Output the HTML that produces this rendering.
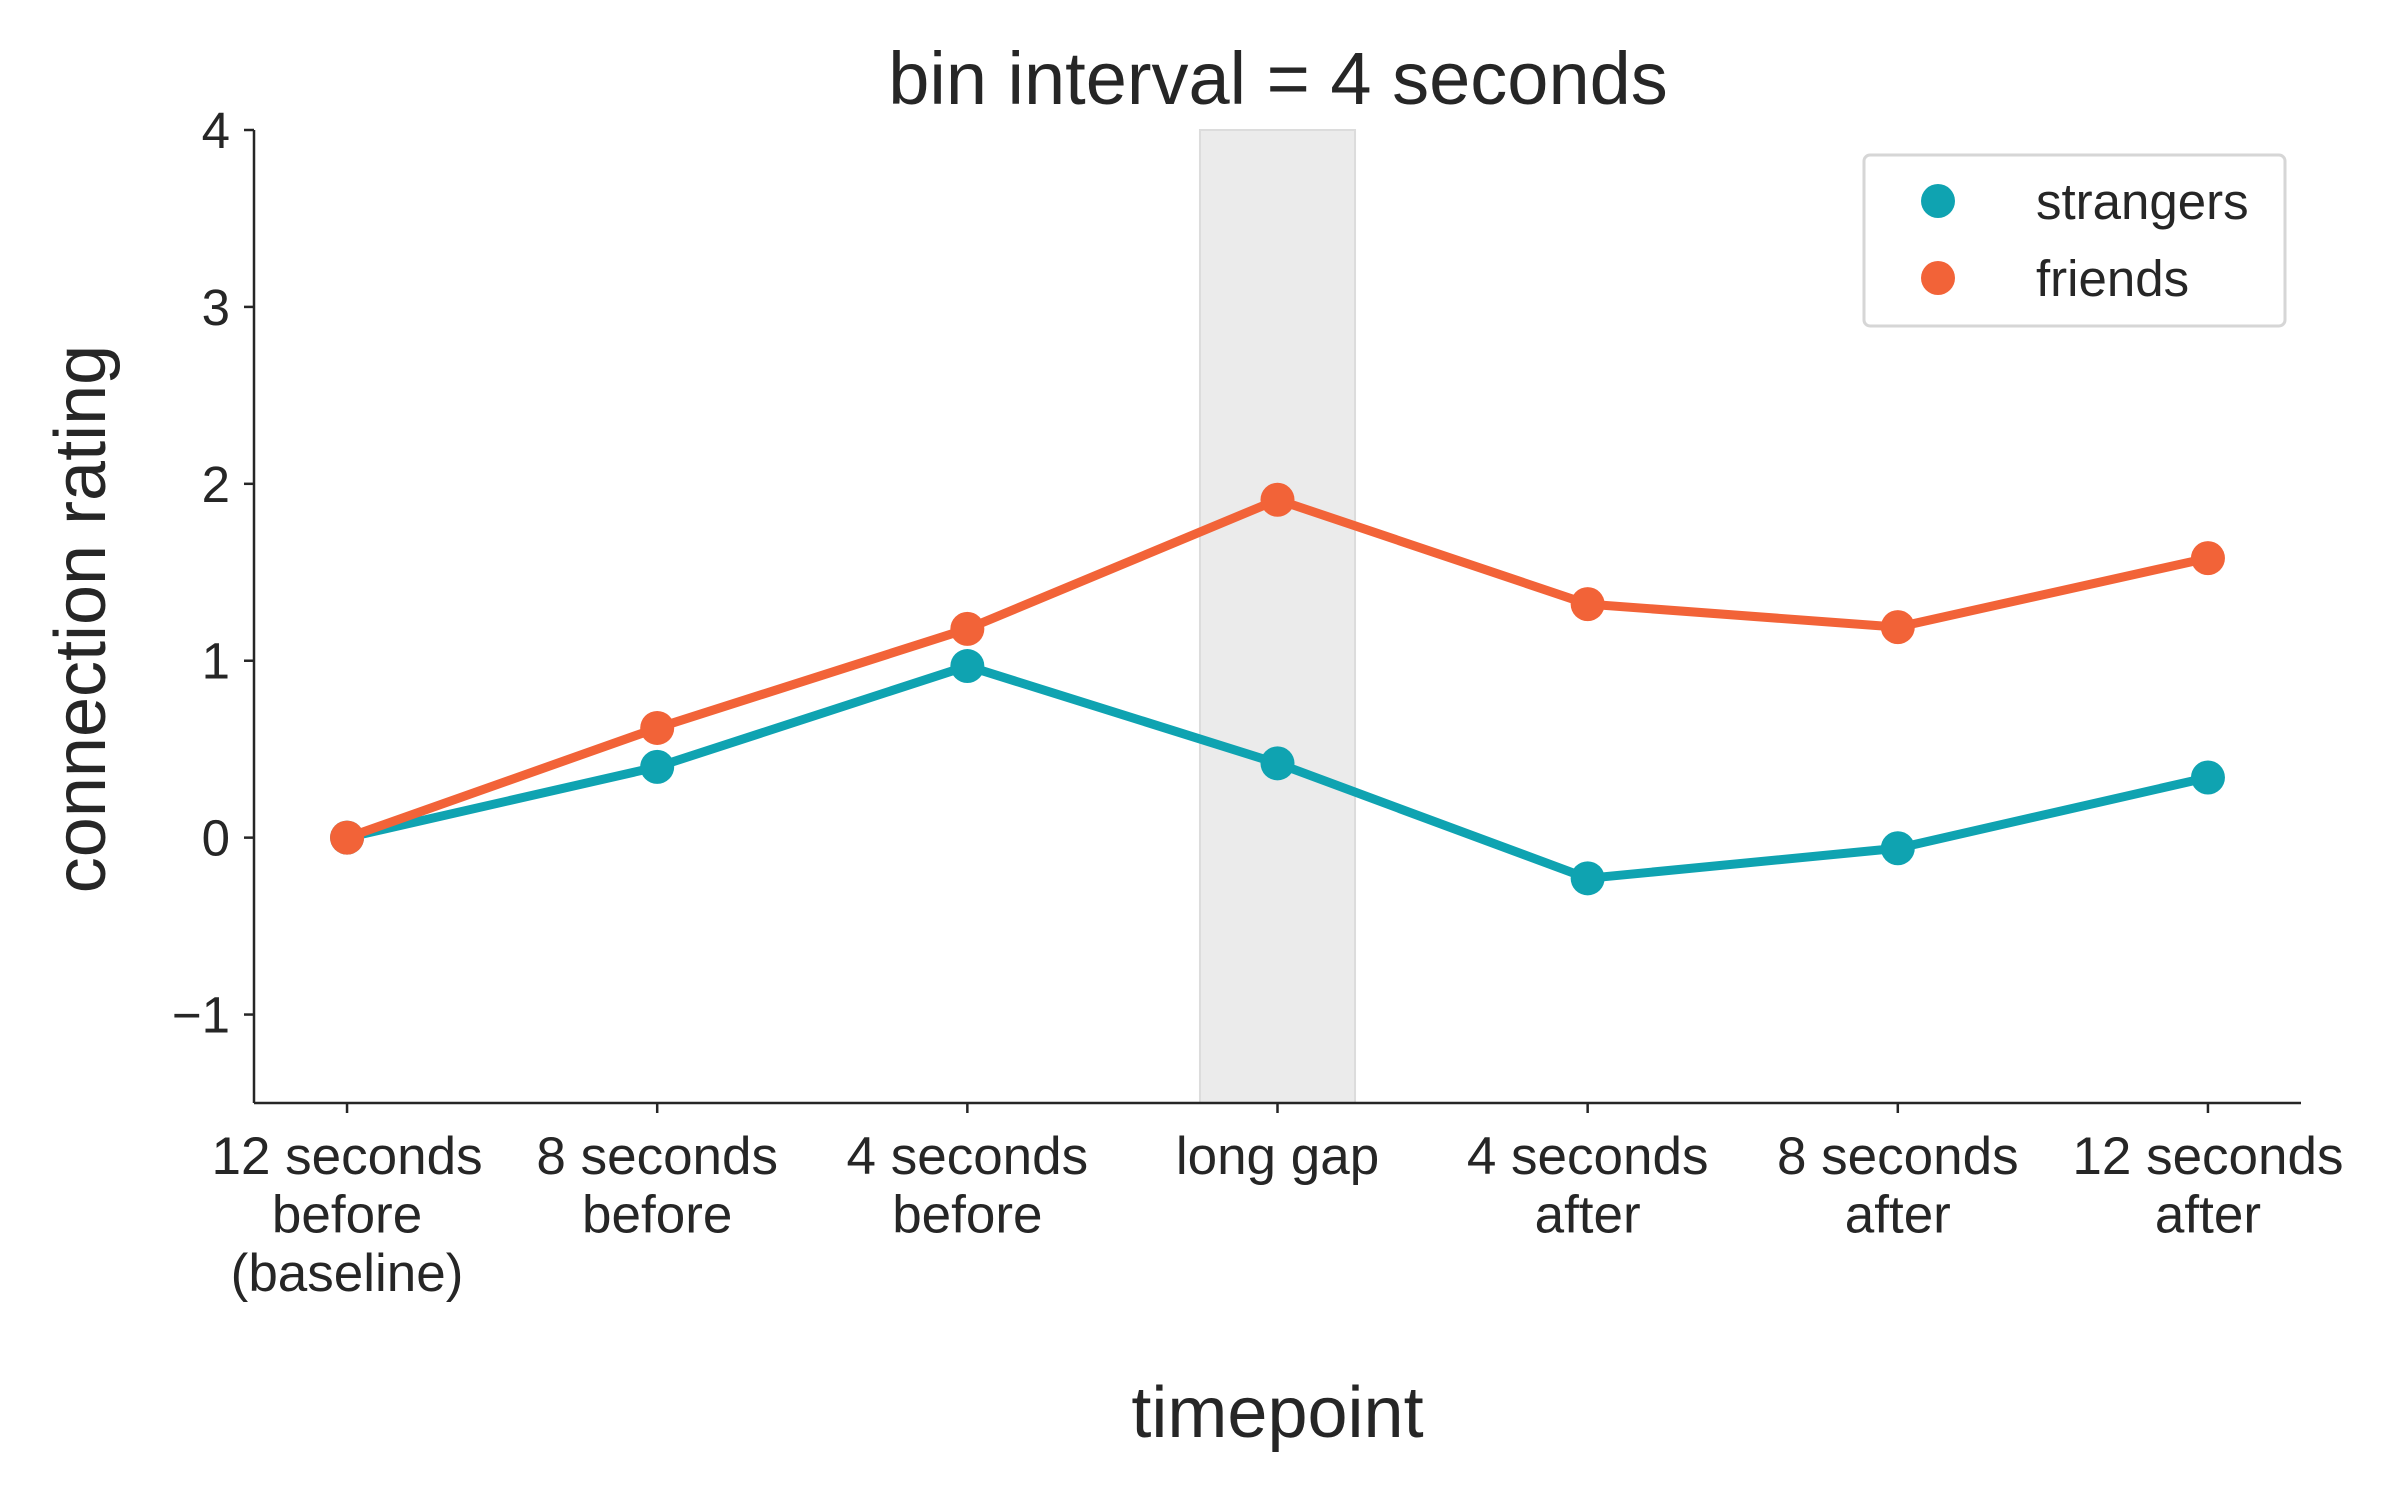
<!DOCTYPE html>
<html><head><meta charset="utf-8"><style>
body{margin:0;background:#fff}
svg{display:block;font-family:"Liberation Sans",Arial,sans-serif;fill:#262626}
</style></head><body>
<svg id="chart" width="2400" height="1500" viewBox="0 0 2400 1500"></svg>
<script>
const categories = ["12 seconds|before|(baseline)","8 seconds|before","4 seconds|before","long gap","4 seconds|after","8 seconds|after","12 seconds|after"];
const strangers = [0, 0.40, 0.97, 0.42, -0.23, -0.06, 0.34];
const friends = [0, 0.62, 1.18, 1.91, 1.32, 1.19, 1.58];
const yTicks = [-1, 0, 1, 2, 3, 4];
const yTickLabels = ["\u22121","0","1","2","3","4"];
const bandRange = [2.75, 3.25];

const L=254,R=2301,T=130,B=1103;
const xMin=-0.3,xMax=6.3,yMin=-1.5,yMax=4;
const X=i=>L+(i-xMin)/(xMax-xMin)*(R-L);
const Y=v=>B-(v-yMin)/(yMax-yMin)*(B-T);
const NS="http://www.w3.org/2000/svg";
const svg=document.getElementById('chart');
function el(tag,attrs,parent){const e=document.createElementNS(NS,tag);for(const k in attrs)e.setAttribute(k,attrs[k]);(parent||svg).appendChild(e);return e;}

const band=el('rect',{x:X(bandRange[0]),y:Y(yMax),width:X(bandRange[1])-X(bandRange[0]),height:B-Y(yMax),fill:'#ebebeb',stroke:'#dcdcdc','stroke-width':2});



const title=el('text',{x:1278,y:104,'font-size':74,'text-anchor':'middle'});
title.textContent='bin interval = 4 seconds';



const yAxis=el('line',{x1:L,y1:Y(yMax),x2:L,y2:B,stroke:'#262626','stroke-width':2.5});


const xAxis=el('line',{x1:L,y1:B,x2:R,y2:B,stroke:'#262626','stroke-width':2.5});



yTicks.forEach((v,i)=>{
  const t=el('line',{x1:L-10,y1:Y(v),x2:L,y2:Y(v),stroke:'#262626','stroke-width':2.5});
  
  
  const lb=el('text',{x:L-24,y:Y(v)+18,'font-size':51,'text-anchor':'end'});
  lb.textContent=yTickLabels[i];
  
  
});
categories.forEach((c,i)=>{
  const t=el('line',{x1:X(i),y1:B,x2:X(i),y2:B+10,stroke:'#262626','stroke-width':2.5});
  
  
  const lb=el('text',{'font-size':53,'text-anchor':'middle'});
  
  
  c.split('|').forEach((line,j)=>{
    const ts=el('tspan',{x:X(i),y:1174+j*58.5},lb);
    ts.textContent=line;
  });
});

const xl=el('text',{x:X(3),y:1437,'font-size':72,'text-anchor':'middle'});
xl.textContent='timepoint';


const yl=el('text',{x:0,y:0,'font-size':72,'text-anchor':'middle',transform:'translate(105,619) rotate(-90)'});
yl.textContent='connection rating';



function series(vals,color,name){
  const p=el('polyline',{points:vals.map((v,i)=>X(i)+','+Y(v)).join(' '),fill:'none',stroke:color,'stroke-width':9,'stroke-linejoin':'round'});
  
  
  vals.forEach((v,i)=>{
    const c=el('circle',{cx:X(i),cy:Y(v),r:17,fill:color});
    
    
  });
}
series(strangers,'#0fa3b1','strangers');
series(friends,'#f26338','friends');

const lg=el('g',{});


el('rect',{x:1864,y:155,width:421,height:171,rx:6,fill:'#fff',stroke:'#d6d6d6','stroke-width':3},lg);
[['strangers','#0fa3b1',201],['friends','#f26338',278]].forEach(([n,c,y])=>{
  const g=el('g',{},lg);
  
  
  el('circle',{cx:1938,cy:y,r:17,fill:c},g);
  const t=el('text',{x:2036,y:y+18,'font-size':51},g);
  t.textContent=n;
});
</script>
</body></html>
